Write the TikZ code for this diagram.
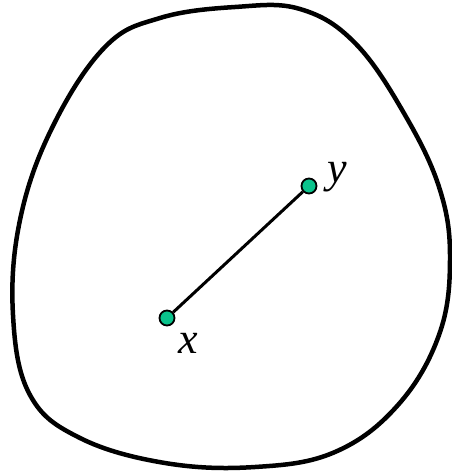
\documentclass[tikz,border=0pt]{standalone}
\usepackage{fontspec}
\setmainfont{Liberation Serif}
\definecolor{dotgreen}{RGB}{10,195,140}
\begin{document}
\begin{tikzpicture}[x=1pt,y=-1pt,
  pt/.style={circle,draw=black,line width=1.8pt,fill=dotgreen,inner sep=0pt,minimum size=15pt},
  lab/.style={font=\fontsize{44}{44}\selectfont\itshape,inner sep=0pt}]
\useasboundingbox (0,0) rectangle (452,471);
\draw[line width=4.5pt] plot[smooth cycle,tension=0.65] coordinates {
 (105,47) (160,18) (235,7) (300,9) (355,43) (405,115) (440,190) (450,260)
 (439,335) (398,405) (335,452) (255,467) (165,463) (80,438) (30,395)
 (13,315) (20,220) (52,128)};
\node[pt] (x) at (167,318) {};
\node[pt] (y) at (309,186) {};
\draw[line width=3pt] (x) -- (y);
\node[lab] (xl) at (188,343) {x};
\node[lab] (yl) at (337,177) {y};
\end{tikzpicture}
\end{document}
